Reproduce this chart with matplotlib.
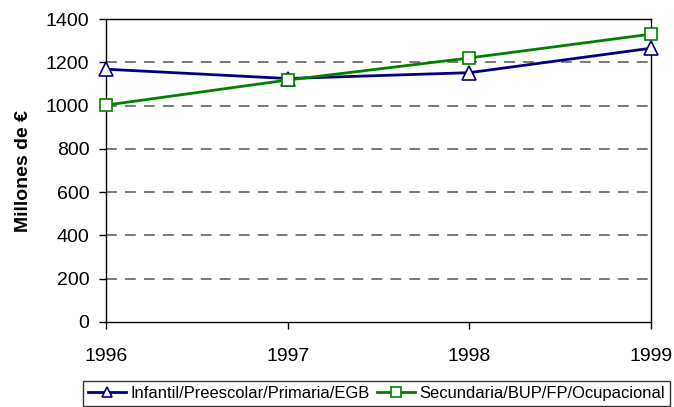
import matplotlib
matplotlib.use("Agg")
import matplotlib.pyplot as plt

years = [1996, 1997, 1998, 1999]
infantil = [1168, 1125, 1152, 1265]
secundaria = [1002, 1118, 1220, 1330]
labels = ["Infantil/Preescolar/Primaria/EGB", "Secundaria/BUP/FP/Ocupacional"]
yticks = [0, 200, 400, 600, 800, 1000, 1200, 1400]

plt.rcParams['font.family'] = ['Liberation Sans', 'DejaVu Sans']

fig = plt.figure(figsize=(6.74, 4.07), dpi=100)
ax = fig.add_axes([106/674, 1 - 322/407, (651-106)/674, (322-19)/407])

for y in yticks[1:-1]:
    ax.axhline(y, color='#6e6e6e', lw=1.3, ls=(0, (6, 4.5)), zorder=1)

ax.plot(years, infantil, color='#000080', lw=2, marker='^', ms=10,
        mfc='white', mec='#000080', mew=1.2, label=labels[0], zorder=3, clip_on=False)
ax.plot(years, secundaria, color='#008000', lw=2, marker='s', ms=9,
        mfc='white', mec='#008000', mew=1.2, label=labels[1], zorder=3, clip_on=False)

ax.set_xlim(1996, 1999)
ax.set_ylim(0, 1400)
ax.set_xticks(years)
ax.set_yticks(yticks)
ax.tick_params(direction='out', length=5, width=1, labelsize=14, pad=7)
ax.tick_params(axis='x', pad=14)
for s in ax.spines.values():
    s.set_color('black')
    s.set_linewidth(1)
ax.set_ylabel('Millones de €', fontsize=14, fontweight='bold', labelpad=10)

leg = fig.legend(loc='upper left', bbox_to_anchor=(83/674, 1 - 381/407), ncol=2,
                 fontsize=11.9, frameon=True, fancybox=False, edgecolor='black',
                 handlelength=2.3, columnspacing=0.45, handletextpad=0.25,
                 borderpad=0.3, borderaxespad=0, markerscale=0.75)
leg.get_frame().set_linewidth(1)

fig.savefig('out.png', dpi=100)
